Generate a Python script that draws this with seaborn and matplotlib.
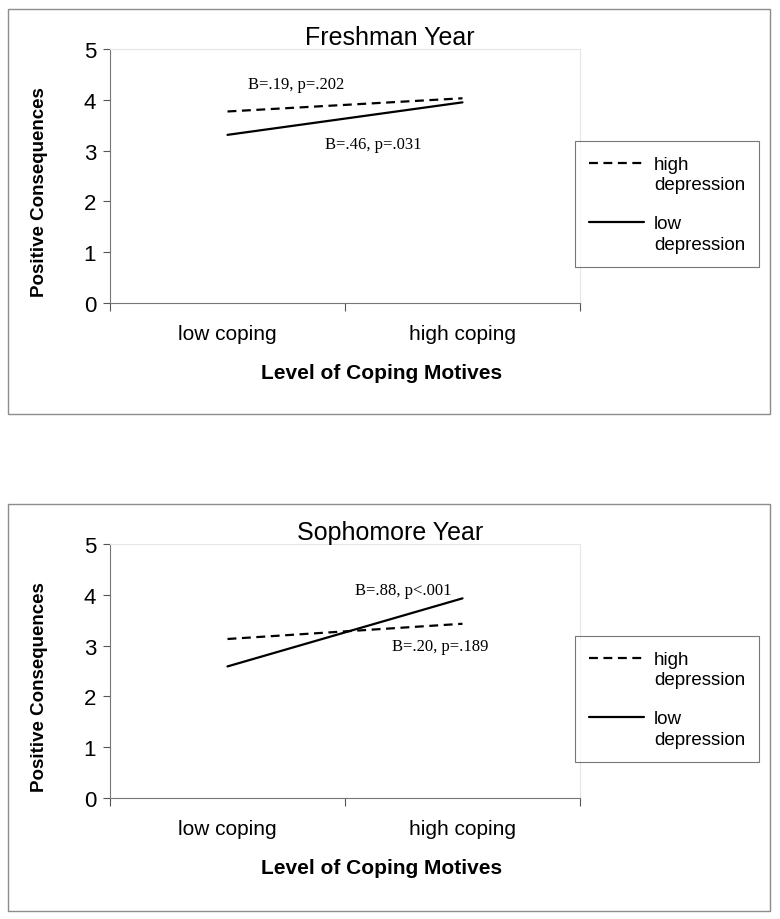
import numpy as np
import pandas as pd
import matplotlib
matplotlib.use('Agg')
import matplotlib.pyplot as plt
import seaborn as sns
from matplotlib.patches import Rectangle
from matplotlib.legend_handler import HandlerLine2D

# ------------------------------------------------------------------
# Data
# ------------------------------------------------------------------
coping_levels = ['low coping', 'high coping']
groups = ['high depression', 'low depression']
legend_labels = ['high\ndepression', 'low\ndepression']

fresh_high_dep = [3.77, 4.03]
fresh_low_dep = [3.31, 3.95]
soph_high_dep = [3.13, 3.43]
soph_low_dep = [2.59, 3.93]

fresh_notes = ['B=.19, p=.202', 'B=.46, p=.031']
soph_notes = ['B=.88, p<.001', 'B=.20, p=.189']

panel_titles = ['Freshman Year', 'Sophomore Year']
y_ticks = [0, 1, 2, 3, 4, 5]


def make_frame(high, low):
    rows = []
    for lvl, v in zip(coping_levels, high):
        rows.append({'coping': lvl, 'group': groups[0], 'value': v})
    for lvl, v in zip(coping_levels, low):
        rows.append({'coping': lvl, 'group': groups[1], 'value': v})
    return pd.DataFrame(rows)


# legend line sits level with the first line of a two-line label
class UpperLine(HandlerLine2D):
    def create_artists(self, legend, orig_handle, xdescent, ydescent,
                       width, height, fontsize, trans):
        arts = super().create_artists(legend, orig_handle, xdescent, ydescent,
                                      width, height, fontsize, trans)
        for a in arts:
            a.set_ydata(np.asarray(a.get_ydata()) + 0.62 * fontsize)
        return arts


sns.set_theme(style='white')
plt.rcParams['font.family'] = ['Liberation Sans', 'DejaVu Sans']
plt.rcParams['text.color'] = 'black'
plt.rcParams['axes.labelcolor'] = 'black'
plt.rcParams['xtick.color'] = 'black'
plt.rcParams['ytick.color'] = 'black'

fig = plt.figure(figsize=(7.8, 9.2), dpi=100)
W, H = 780, 920

# outer boxes round each panel
for top, bottom in [(10, 415), (505, 912)]:
    fig.patches.append(Rectangle((8 / W, 1 - bottom / H), 762 / W, (bottom - top) / H,
                                 transform=fig.transFigure, fill=False,
                                 edgecolor='#8c8c8c', linewidth=1.0))

panels = [
    (make_frame(fresh_high_dep, fresh_low_dep), fresh_notes, (50, 304), 38,
     [(0.396, 0.862), (0.56, 0.626)]),
    (make_frame(soph_high_dep, soph_low_dep), soph_notes, (545, 799), 533,
     [(0.623, 0.82), (0.702, 0.60)]),
]

for i, (df, notes, (ytop, ybot), title_y, note_pos) in enumerate(panels):
    ax = fig.add_axes([110 / W, 1 - ybot / H, 470 / W, (ybot - ytop) / H])
    sns.lineplot(data=df, x='coping', y='value', style='group', style_order=groups,
                 dashes={groups[0]: (4, 2.5), groups[1]: ''}, color='black',
                 linewidth=1.6, sort=False, ax=ax)
    ax.set_xlim(-0.5, 1.5)
    ax.set_ylim(0, 5)
    ax.set_yticks(y_ticks)
    ax.set_yticklabels([str(t) for t in y_ticks], fontsize=16)
    ax.set_xticks([0, 1])
    ax.set_xticklabels(coping_levels, fontsize=15)
    ax.set_xticks([-0.5, 0.5, 1.5], minor=True)
    ax.tick_params(axis='x', which='major', length=0, pad=15)
    ax.tick_params(axis='x', which='minor', length=6, width=0.8, color='#555555', bottom=True)
    ax.tick_params(axis='y', length=5, width=0.8, color='#555555', left=True, pad=5)
    for side in ['top', 'right']:
        ax.spines[side].set_color('#e6e6e6')
        ax.spines[side].set_linewidth(0.8)
    for side in ['left', 'bottom']:
        ax.spines[side].set_color('#777777')
        ax.spines[side].set_linewidth(0.8)

    fig.text(390 / W, 1 - title_y / H, panel_titles[i], fontsize=18,
             ha='center', va='center')
    ax.set_xlabel('Level of Coping Motives', fontsize=15, fontweight='bold')
    ax.xaxis.set_label_coords(0.577, -0.235)
    ax.set_ylabel('Positive Consequences', fontsize=13.5, fontweight='bold')
    ax.yaxis.set_label_coords(-0.132, 0.44)

    for txt, (tx, ty) in zip(notes, note_pos):
        ax.text(tx, ty, txt, transform=ax.transAxes, fontsize=12,
                family='Liberation Serif', ha='center', va='center')

    handles, _ = ax.get_legend_handles_labels()
    leg = ax.legend(handles, legend_labels, loc='upper left',
                    bbox_to_anchor=(0.99, 0.636), frameon=True, fancybox=False,
                    edgecolor='#555555', fontsize=13.5, handlelength=2.9,
                    handletextpad=0.55, labelspacing=1.15, borderpad=0.75,
                    borderaxespad=0, handler_map={matplotlib.lines.Line2D: UpperLine()})
    leg.get_frame().set_linewidth(0.8)
    for t in leg.get_texts():
        t.set_linespacing(1.3)

fig.savefig('out.png', dpi=100)
